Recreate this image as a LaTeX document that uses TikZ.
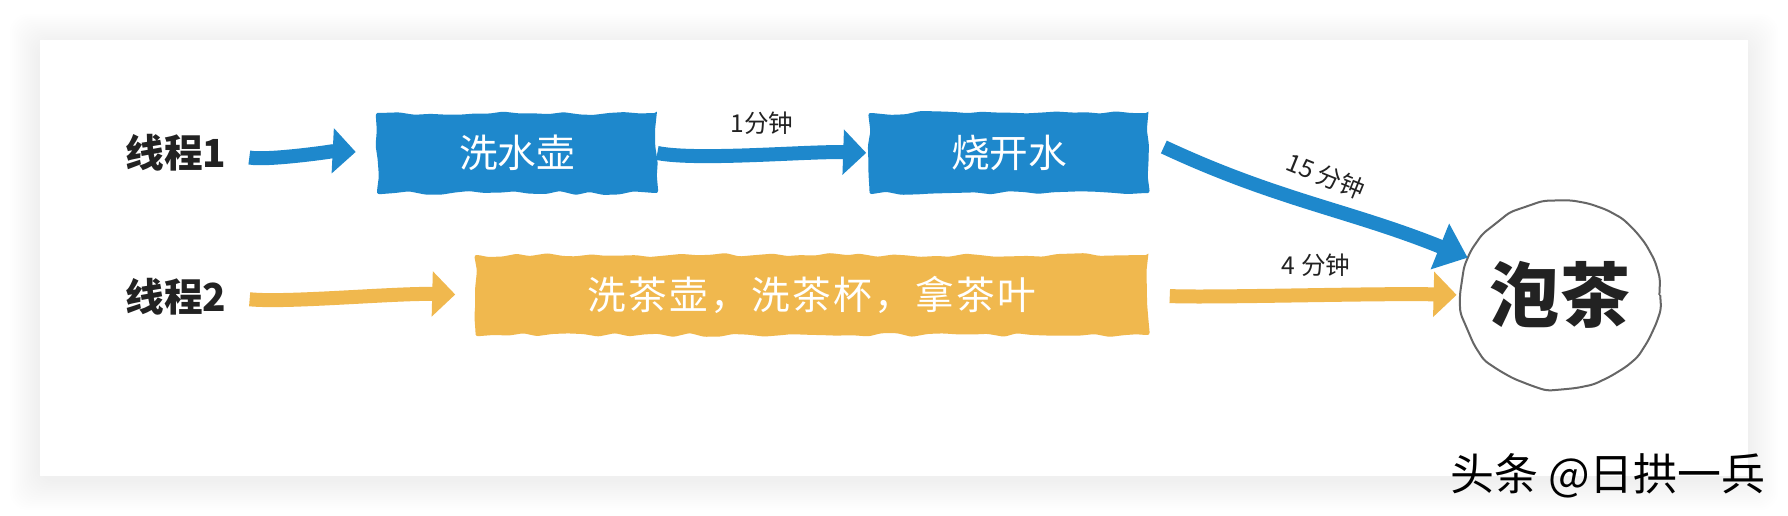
\documentclass[tikz,border=0pt]{standalone}
\usepackage{fontspec}
\setmainfont{Noto Sans CJK SC}
\usetikzlibrary{arrows.meta,shapes.geometric,decorations.pathmorphing}
\definecolor{tblue}{HTML}{1E88CC}
\definecolor{torange}{HTML}{F0B84E}
\definecolor{ink}{HTML}{222222}
\definecolor{rim}{HTML}{666666}
\begin{document}
\begin{tikzpicture}[x=0.02cm,y=-0.02cm,
  roughbox/.style={fill=#1, inner sep=0pt, minimum height=1.6cm, text=white,
    font=\fontsize{22}{26}\selectfont, decorate,
    decoration={random steps,segment length=0.3cm,amplitude=0.04cm},
    rounded corners=0.05cm},
  thread/.style={font=\fontsize{22}{26}\selectfont\bfseries, text=ink, inner sep=0pt},
  lbl/.style={font=\fontsize{14}{16}\selectfont, text=ink, inner sep=1pt},
  flow/.style={line width=0.28cm, -{Triangle[length=0.46cm,width=0.88cm]}},
  flowb/.style={line width=0.28cm, -{Triangle[length=0.6cm,width=0.95cm]}}]
\pgfmathsetseed{7}
% background, shadow, card
\fill[white] (0,0) rectangle (1788,516);
\useasboundingbox (0,0) rectangle (1788,516);
\foreach \i in {1,...,15}
  \fill[black, fill opacity=0.0055, rounded corners=0.35cm]
    (40-2*\i, 40-2*\i+4) rectangle (1748+2*\i, 476+2*\i+4);
\fill[white] (40,40) rectangle (1748,476);

% nodes
\node[thread] (t1) at (176,153) {线程1};
\node[thread] (t2) at (176,297) {线程2};
\node[roughbox=tblue, minimum width=5.6cm] (b1) at (517,153) {洗水壶};
\node[roughbox=tblue, minimum width=5.58cm] (b2) at (1009,153) {烧开水};
\node[roughbox=torange, minimum width=13.46cm,
  font=\fontsize{22}{26}\selectfont\addfontfeature{LetterSpace=6}] (b3) at (812,295) {洗茶壶，洗茶杯，拿茶叶};
\node[ellipse, draw=rim, line width=0.04cm, minimum width=3.92cm, minimum height=3.76cm,
  inner sep=0pt, font=\fontsize{40}{44}\selectfont\bfseries, text=ink, decorate,
  decoration={random steps,segment length=0.35cm,amplitude=0.035cm},
  rounded corners=0.1cm] (tea) at (1560,295) {泡茶};
\node[font=\fontsize{25}{28}\selectfont, text=black] (wm) at (1608,476) {头条 @日拱一兵};

% connectors
\coordinate (s3) at ([shift={(15,-6)}]b2.east);
\draw[flow, tblue, shorten <=0.46cm, shorten >=0.42cm]
  (t1.east) .. controls +(40,8) and +(-40,-2) .. (b1.west);
\draw[flow, tblue, shorten >=0.06cm]
  (b1.east) .. controls +(40,8) and +(-60,-2) .. (b2.west);
\draw[flowb, tblue] (s3) to[out=-25,in=158] (tea);
\draw[flow, torange, shorten <=0.46cm, shorten >=0.4cm]
  (t2.east) .. controls +(60,6) and +(-80,-2) .. (b3.west);
\draw[flow, torange, shorten <=0.42cm, shorten >=0.06cm]
  (b3.east) .. controls +(60,3) and +(-80,-2) .. (tea.west);

% labels
\node[lbl] (l1) at (762,123) {1分钟};
\node[lbl, rotate=-22] (l2) at (1326,176) {15 分钟};
\node[lbl] (l3) at (1316,265) {4 分钟};
\end{tikzpicture}
\end{document}
